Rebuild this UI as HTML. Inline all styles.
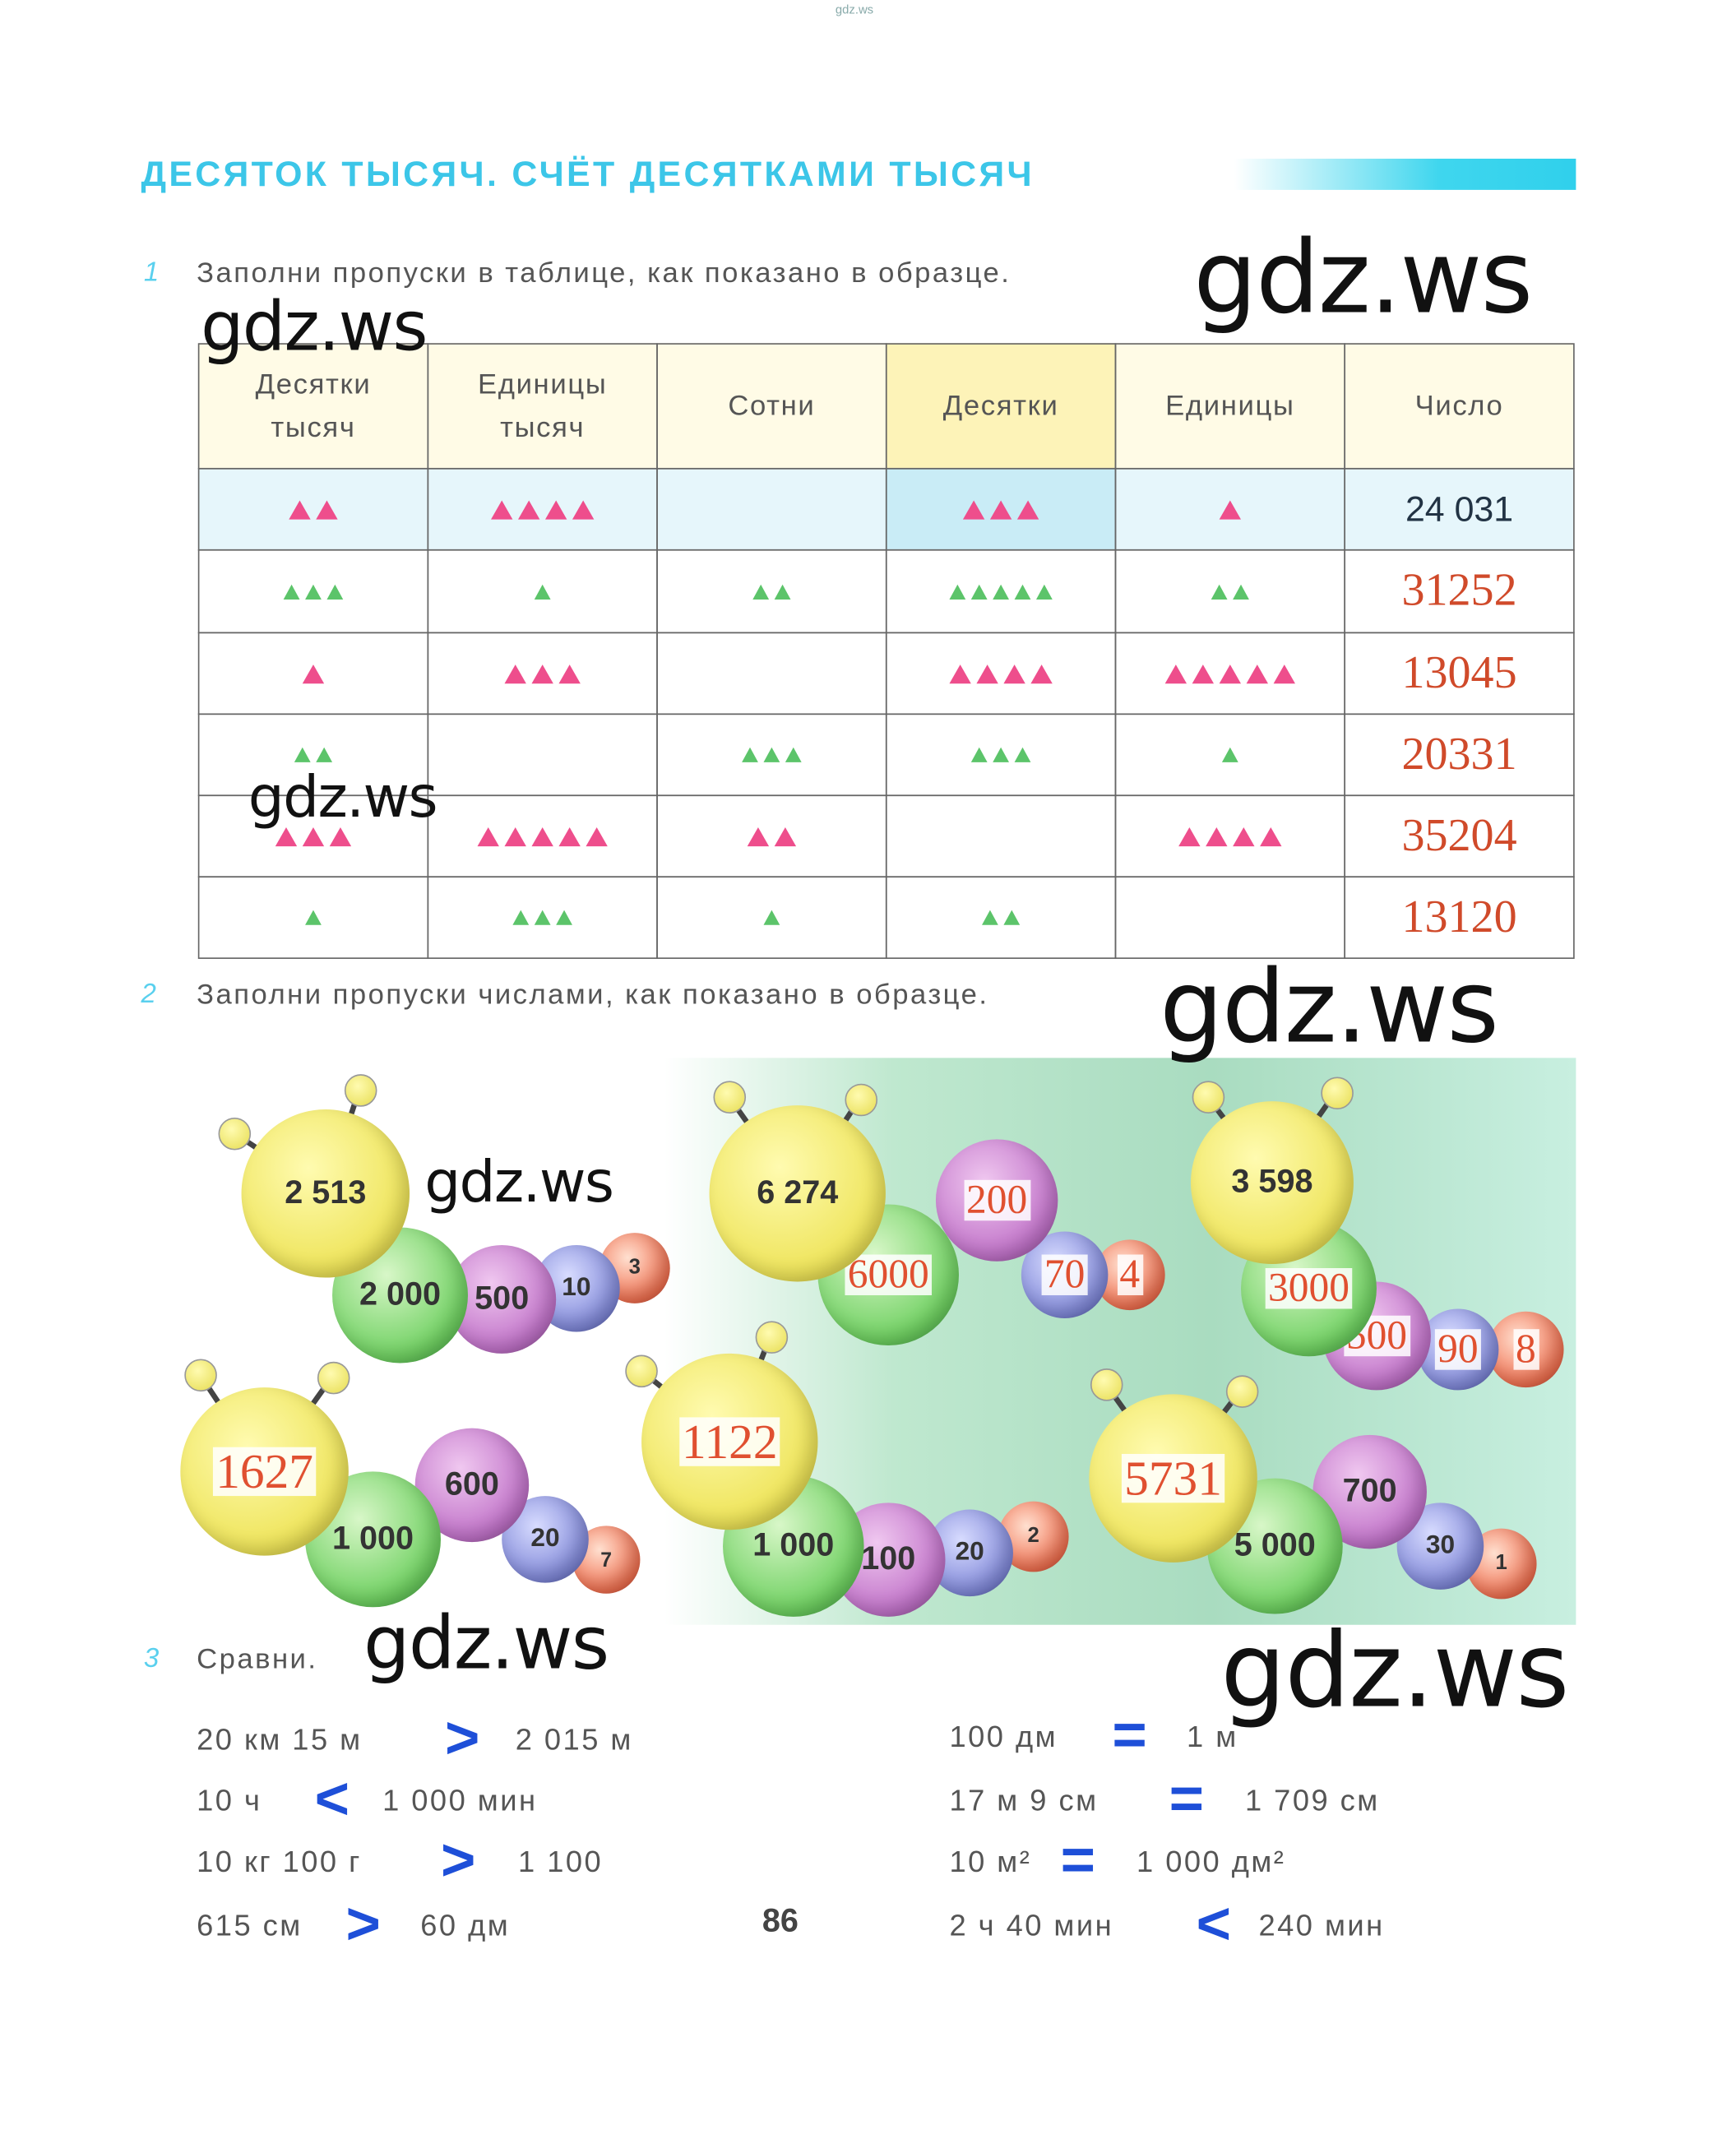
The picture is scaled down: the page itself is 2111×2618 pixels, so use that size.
<!DOCTYPE html>
<html><head><meta charset="utf-8"><style>
html,body{margin:0;padding:0;background:#fff;}
#page{position:relative;width:1280px;height:1587px;transform:scale(1.6492);transform-origin:0 0;overflow:hidden;font-family:"Liberation Sans","DejaVu Sans",sans-serif;}
.a{position:absolute;white-space:nowrap;}
.wm{position:absolute;font-family:"DejaVu Sans","Liberation Sans",sans-serif;color:#111;font-weight:500;letter-spacing:-1px;line-height:1;}
.g{color:#555;font-size:21px;letter-spacing:1.5px;}
.cell{position:absolute;border:1px solid #666;box-sizing:border-box;}
.hd{display:flex;align-items:center;justify-content:center;text-align:center;color:#555;font-size:21px;line-height:32px;letter-spacing:1px;}
.num{font-family:"Liberation Serif",serif;color:#d04a2a;font-size:34px;}
.tri{display:inline-block;width:0;height:0;border-left:8px solid transparent;border-right:8px solid transparent;border-bottom:14px solid #ee4e8c;margin:0 2px;}
.tri.gr{border-bottom-color:#5cc46a;border-left-width:6px;border-right-width:6px;border-bottom-width:11px;}
.c{position:absolute;border-radius:50%;display:flex;align-items:center;justify-content:center;font-weight:bold;color:#333;box-shadow:inset -6px -6px 12px rgba(0,0,0,.18);}
.y{background:radial-gradient(circle at 40% 35%,#fffbb0,#eee45a 70%,#c9c03a);}
.gn{background:radial-gradient(circle at 40% 35%,#d8f7c8,#6fd061 70%,#3aa040);}
.p{background:radial-gradient(circle at 40% 35%,#f0c8f0,#c072c8 70%,#8a4a90);}
.b{background:radial-gradient(circle at 40% 35%,#d8dcff,#8088d8 70%,#4a50a0);}
.r{background:radial-gradient(circle at 40% 35%,#ffe0d0,#f07050 70%,#c04030);}
.rv{font-family:"Liberation Serif",serif;color:#e05030;font-weight:normal;background:rgba(255,255,255,.85);padding:0 2px;line-height:1;}
.ant{position:absolute;width:22px;height:22px;border-radius:50%;background:radial-gradient(circle at 40% 35%,#fffbb0,#e6dc50);border:1px solid #999;}
.st{position:absolute;width:4px;background:#444;transform-origin:top center;}
.sg{position:absolute;color:#1e4fd8;font-weight:bold;font-size:44px;line-height:1;}
</style></head><body><div id="page">
<div class="a" style="left:616px;top:2px;font-size:9px;color:#8aa">gdz.ws</div>
<div class="a" style="left:104px;top:113px;font-size:26px;color:#3cc6e8;letter-spacing:2px;font-weight:bold">ДЕСЯТОК ТЫСЯЧ. СЧЁТ ДЕСЯТКАМИ ТЫСЯЧ</div>
<div class="a" style="left:910px;top:117px;width:252px;height:23px;background:linear-gradient(90deg,#fff,#3fd6ee 60%,#30d0ec)"></div>
<div class="a" style="left:106px;top:190px;color:#5ad0ee;font-size:20px;font-style:italic">1</div>
<div class="a g" style="left:145px;top:190px">Заполни пропуски в таблице, как показано в образце.</div>

<div>
<div class="a" style="left:146px;top:253px;width:1014px;height:92px;background:#fffbe6"></div>
<div class="a" style="left:653px;top:253px;width:169px;height:92px;background:#fdf3b8"></div>
<div class="a" style="left:146px;top:345px;width:1014px;height:60px;background:#e6f6fb"></div>
<div class="a" style="left:653px;top:345px;width:169px;height:60px;background:#c9ecf6"></div>
<div id="tbl"></div>
</div>

<div class="a" style="left:104px;top:722px;color:#5ad0ee;font-size:20px;font-style:italic">2</div>
<div class="a g" style="left:145px;top:722px">Заполни пропуски числами, как показано в образце.</div>

<div class="a" style="left:490px;top:780px;width:672px;height:418px;background:linear-gradient(90deg,#fff 0%,#bfe8cf 25%,#a9dcc0 60%,#c8efe0 100%)"></div>
<div id="cats"></div>

<div class="a" style="left:106px;top:1212px;color:#5ad0ee;font-size:20px;font-style:italic">3</div>
<div class="a g" style="left:145px;top:1212px">Сравни.</div>
<div id="cmp"></div>
<div class="a" style="left:562px;top:1403px;font-size:24px;color:#444;font-weight:bold">86</div>

<div class="wm" style="left:880px;top:168px;font-size:74px">gdz.ws</div>
<div class="wm" style="left:148px;top:216px;font-size:50px">gdz.ws</div>
<div class="wm" style="left:183px;top:567px;font-size:42px">gdz.ws</div>
<div class="wm" style="left:855px;top:706px;font-size:74px">gdz.ws</div>
<div class="wm" style="left:313px;top:851px;font-size:42px">gdz.ws</div>
<div class="wm" style="left:268px;top:1185px;font-size:54px">gdz.ws</div>
<div class="wm" style="left:900px;top:1194px;font-size:76px">gdz.ws</div>
</div>
<script>
const headers=[["Десятки","тысяч"],["Единицы","тысяч"],["Сотни"],["Десятки"],["Единицы"],["Число"]];
const counts=[[2,4,0,3,1],[3,1,2,5,2],[1,3,0,4,5],[2,0,3,3,1],[3,5,2,0,4],[1,3,1,2,0]];
const numbers=["24 031","31252","13045","20331","35204","13120"];
const colors=["p","g","p","g","p","g"];
const colX=[146,315,484,653,822,991,1160];
const rowY=[253,345,405,466,526,586,646,706];
const tbl=document.getElementById('tbl');
for(let c=0;c<6;c++){
 const d=document.createElement('div');d.className='cell hd';
 
 
 d.style.cssText=`left:${colX[c]}px;top:${rowY[0]}px;width:${colX[c+1]-colX[c]+1}px;height:${rowY[1]-rowY[0]+1}px;`;
 d.innerHTML=headers[c].join('<br>');tbl.appendChild(d);
}
for(let r=0;r<6;r++){for(let c=0;c<6;c++){
 const d=document.createElement('div');d.className='cell';
 
 
 d.style.cssText=`left:${colX[c]}px;top:${rowY[r+1]}px;width:${colX[c+1]-colX[c]+1}px;height:${rowY[r+2]-rowY[r+1]+1}px;display:flex;align-items:center;justify-content:center;`;
 if(c<5){let s='';for(let k=0;k<counts[r][c];k++)s+=`<span class="tri ${colors[r]=='g'?'gr':''}"></span>`;d.innerHTML=s;}
 else{d.innerHTML=`<span class="${r==0?'':'num'}" style="${r==0?'font-size:26px;color:#234':''}">${numbers[r]}</span>`;}
 tbl.appendChild(d);
}}
const cats=[
 {ant:[[172,835],[265,803]],b:[["r",468,935,26,"3",0],["b",425,950,32,"10",0],["p",370,958,40,"500",0],["gn",295,955,50,"2 000",0],["y",240,880,62,"2 513",0]]},
 {ant:[[537,808],[634,810]],b:[["r",833,940,26,"4",1],["b",785,940,32,"70",1],["p",735,885,45,"200",1],["gn",655,940,52,"6000",1],["y",588,880,65,"6 274",0]]},
 {ant:[[890,808],[985,805]],b:[["r",1125,995,28,"8",1],["b",1075,995,30,"90",1],["p",1015,985,40,"500",1],["gn",965,950,50,"3000",1],["y",938,872,60,"3 598",0]]},
 {ant:[[147,1013],[245,1015]],b:[["r",447,1150,25,"7",0],["b",402,1135,32,"20",0],["p",348,1095,42,"600",0],["gn",275,1135,50,"1 000",0],["y",195,1085,62,"1627",1]]},
 {ant:[[472,1010],[568,985]],b:[["r",762,1133,26,"2",0],["b",715,1145,32,"20",0],["p",655,1150,42,"100",0],["gn",585,1140,52,"1 000",0],["y",538,1063,65,"1122",1]]},
 {ant:[[815,1020],[915,1025]],b:[["r",1107,1153,26,"1",0],["b",1062,1140,32,"30",0],["p",1010,1100,42,"700",0],["gn",940,1140,50,"5 000",0],["y",865,1090,62,"5731",1]]}
];
const ce=document.getElementById('cats');
cats.forEach(cat=>{
 const h=cat.b[4];
 cat.ant.forEach(a=>{
  const st=document.createElement('div');st.className='st';
  
  
  const dx=h[1]-a[0],dy=h[2]-a[1],len=Math.hypot(dx,dy)-h[3]+8;
  st.style.cssText=`left:${a[0]-2}px;top:${a[1]}px;height:${len}px;transform:rotate(${-Math.atan2(dx,dy)*180/Math.PI}deg)`;
  ce.appendChild(st);
  const d=document.createElement('div');d.className='ant';
  
  
  d.style.left=(a[0]-11)+'px';d.style.top=(a[1]-11)+'px';ce.appendChild(d);
 });
 cat.b.forEach(b=>{
  const d=document.createElement('div');d.className='c '+b[0];
  
  
  d.style.cssText=`left:${b[1]-b[3]}px;top:${b[2]-b[3]}px;width:${b[3]*2}px;height:${b[3]*2}px;font-size:${b[0]=='y'?24:Math.min(24,b[3]*0.6)}px;`;
  d.innerHTML=b[5]?`<span class="rv" style="font-size:${b[0]=='y'?36:30}px">${b[4]}</span>`:b[4];
  ce.appendChild(d);
 });
});
const cmpRows=[[145,1270,"20 км 15 м",">",328,"2 015 м",380],[145,1315,"10 ч","<",232,"1 000 мин",282],[145,1360,"10 кг 100 г",">",325,"1 100",382],[145,1407,"615 см",">",255,"60 дм",310],
 [700,1268,"100 дм","=",820,"1 м",875],[700,1315,"17 м 9 см","=",862,"1 709 см",918],[700,1360,"10 м²","=",782,"1 000 дм²",838],[700,1407,"2 ч 40 мин","<",882,"240 мин",928]];
const cm=document.getElementById('cmp');
cmpRows.forEach(r=>{
 const a=document.createElement('div');a.className='a g';
 
 
 a.style.left=r[0]+'px';a.style.top=r[1]+'px';a.style.fontSize='22px';a.textContent=r[2];cm.appendChild(a);
 const s=document.createElement('div');s.className='sg';
 
 
 s.style.left=r[4]+'px';s.style.top=(r[1]-10)+'px';s.textContent=r[3];cm.appendChild(s);
 const b=document.createElement('div');b.className='a g';
 
 
 b.style.left=r[6]+'px';b.style.top=r[1]+'px';b.style.fontSize='22px';b.textContent=r[5];cm.appendChild(b);
});
</script>
</body></html>
